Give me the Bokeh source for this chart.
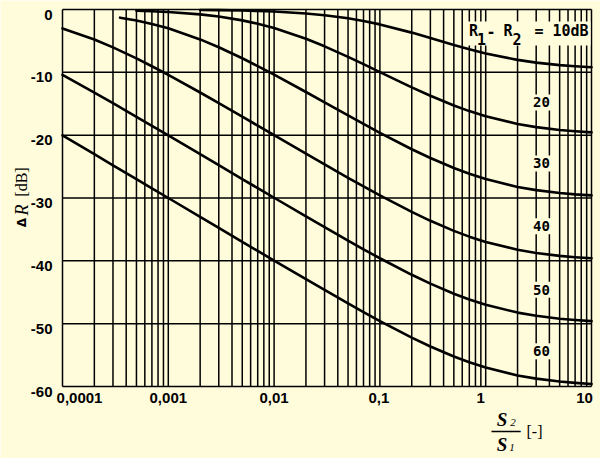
import math
from bokeh.plotting import figure
from bokeh.models import Range1d
from bokeh.core.properties import value
from bokeh.embed import file_html
from bokeh.resources import INLINE

BG = "#fffcdc"

# ---------------- data ----------------
# level difference R1 - R2 of the curves [dB]
R1_MINUS_R2 = [10, 20, 30, 40, 50, 60]

# area ratio S2/S1 sample points
S_RATIO = [0.0001, 0.0002, 0.0003, 0.0005, 0.0007,
           0.001, 0.002, 0.003, 0.005, 0.007,
           0.01, 0.02, 0.03, 0.05, 0.07,
           0.1, 0.2, 0.3, 0.5, 0.7,
           1, 2, 3, 5, 7, 10]
S_RATIO_10 = [0.002, 0.003, 0.005, 0.007,
              0.01, 0.02, 0.03, 0.05, 0.07,
              0.1, 0.2, 0.3, 0.5, 0.7,
              1, 2, 3, 5, 7, 10]
S_RATIO_20 = [0.0005, 0.0007,
              0.001, 0.002, 0.003, 0.005, 0.007,
              0.01, 0.02, 0.03, 0.05, 0.07,
              0.1, 0.2, 0.3, 0.5, 0.7,
              1, 2, 3, 5, 7, 10]
S_RATIO_30 = [0.00035, 0.0005, 0.0007,
              0.001, 0.002, 0.003, 0.005, 0.007,
              0.01, 0.02, 0.03, 0.05, 0.07,
              0.1, 0.2, 0.3, 0.5, 0.7,
              1, 2, 3, 5, 7, 10]

# resulting reduction Delta R [dB]
DR_10 = [-0.07, -0.10, -0.17, -0.24, -0.33, -0.63, -0.91, -1.40, -1.83,
         -2.37, -3.68, -4.54, -5.64, -6.33, -6.99, -8.02, -8.45, -8.85, -9.03, -9.18]
DR_20 = [-0.21, -0.29, -0.41, -0.78, -1.12, -1.73, -2.26, -2.95, -4.66, -5.86,
         -7.53, -8.70, -9.96, -12.39, -13.73, -15.27, -16.17, -16.99, -18.22,
         -18.72, -19.17, -19.38, -19.55]
DR_30 = [-1.30, -1.76, -2.30, -3.00, -4.76, -6.00, -7.76, -9.00, -10.37, -13.13,
         -14.78, -16.86, -18.21, -19.63, -22.24, -23.64, -25.23, -26.15, -26.99,
         -28.24, -28.75, -29.20, -29.42, -29.58]
DR_40 = [-3.01, -4.77, -6.02, -7.78, -9.03, -10.41, -13.21, -14.90, -17.05, -18.48,
         -20.00, -22.95, -24.66, -26.79, -28.16, -29.59, -32.22, -33.63, -35.23,
         -36.15, -36.99, -38.24, -38.75, -39.21, -39.42, -39.59]
DR_50 = [-10.41, -13.22, -14.91, -17.07, -18.51, -20.04, -23.02, -24.77, -26.98,
         -28.43, -29.96, -32.93, -34.64, -36.78, -38.16, -39.59, -42.22, -43.63,
         -45.23, -46.15, -46.99, -48.24, -48.75, -49.21, -49.42, -49.59]
DR_60 = [-20.04, -23.03, -24.79, -27.00, -28.46, -30.00, -33.00, -34.76, -36.97,
         -38.42, -39.96, -42.92, -44.64, -46.78, -48.16, -49.59, -52.22, -53.63,
         -55.23, -56.15, -56.99, -58.24, -58.75, -59.21, -59.42, -59.59]

X_TICKS = [0.0001, 0.001, 0.01, 0.1, 1, 10]
X_TICK_LABELS = ["0,0001", "0,001", "0,01", "0,1", "1", "10"]
Y_TICKS = [0, -10, -20, -30, -40, -50, -60]
Y_TICK_LABELS = ["0", "-10", "-20", "-30", "-40", "-50", "-60"]
CURVE_LABELS = [str(v) for v in R1_MINUS_R2[1:]]
CURVE_LABEL_Y = [-14.8, -24.5, -34.5, -44.6, -54.4]
CURVE_LABEL_X = 3.37

# ---------------- layout geometry (page pixels) ----------------
W, H, M = 600, 458, 0
L_IMG, R_IMG, T_IMG, B_IMG = 62, 591, 9, 386      # chart area edges on the page
PX_DEC = (R_IMG - L_IMG) / 5.0                      # pixels per decade
PX_DB = (B_IMG - T_IMG) / 60.0                      # pixels per dB
x_lo = 10 ** (-4 - (L_IMG - M) / PX_DEC)
x_hi = 10 ** (1 + (M + W - R_IMG) / PX_DEC)
y_hi = (T_IMG - M) / PX_DB
y_lo = -60 - (M + H - B_IMG) / PX_DB


def XS(px):
    return 10 ** (-4 + (px - L_IMG) / PX_DEC)


def YS(py):
    return -(py - T_IMG) / PX_DB


p = figure(width=W, height=H, title=None,
           x_axis_type="log", x_range=Range1d(x_lo, x_hi), y_range=Range1d(y_lo, y_hi),
           x_axis_location=None, y_axis_location=None,
           toolbar_location=None, output_backend="svg",
           background_fill_color=BG, border_fill_color=BG,
           min_border=0)
p.outline_line_color = None
p.grid.visible = False

# grid: every unit of each decade, every 10 dB
minor = [k * 10.0 ** e for e in range(-4, 1) for k in range(1, 10)] + [10.0]
p.segment(x0=minor, y0=[-60] * len(minor), x1=minor, y1=[0] * len(minor),
          line_color="black", line_width=1.5)
p.segment(x0=[1e-4] * len(Y_TICKS), y0=Y_TICKS, x1=[10] * len(Y_TICKS), y1=Y_TICKS,
          line_color="black", line_width=1.5)

# cleared boxes behind the curve labels
box_l, box_r, box_t, box_b = [], [], [], []
for yv in CURVE_LABEL_Y:
    cy = T_IMG - yv * PX_DB
    box_l.append(XS(529)); box_r.append(XS(554))
    box_t.append(YS(cy - 8)); box_b.append(YS(cy + 8))
box_l.append(XS(465)); box_r.append(XS(590)); box_t.append(YS(21)); box_b.append(YS(45))
p.quad(left=box_l, right=box_r, top=box_t, bottom=box_b, fill_color=BG, line_color=None)

# curves
curves = [(S_RATIO_10, DR_10), (S_RATIO_20, DR_20), (S_RATIO_30, DR_30),
          (S_RATIO, DR_40), (S_RATIO, DR_50), (S_RATIO, DR_60)]
for xs, ys in curves:
    p.line(xs, ys, line_color="black", line_width=2.6, line_join="round", line_cap="round")

SANS = "Liberation Sans"
SERIF = "Liberation Serif"
MONO = "DejaVu Sans Mono"

# tick labels
p.text(x=[1e-4] * len(Y_TICKS), y=Y_TICKS, text=Y_TICK_LABELS,
       x_offset=-10, y_offset=5, text_align="right", text_baseline="middle",
       text_font=value(SANS), text_font_style="bold", text_font_size="15px", text_color="black")
x_shift = [17, 0, 0, -1, -5, -7]
p.text(x=X_TICKS, y=[-60] * len(X_TICKS), text=X_TICK_LABELS,
       x_offset=x_shift, y_offset=6, text_align="center", text_baseline="top",
       text_font=value(SANS), text_font_style="bold", text_font_size="15px", text_color="black")

# curve labels
p.text(x=[CURVE_LABEL_X] * len(CURVE_LABELS), y=CURVE_LABEL_Y, text=CURVE_LABELS,
       text_align="center", text_baseline="middle",
       text_font=value(MONO), text_font_style="bold", text_font_size="14px", text_color="black")


def txt(t, px, py, size, font, style="bold", angle=0.0, align="center"):
    p.text(x=[XS(px)], y=[YS(py)], text=[t], angle=angle,
           text_align=align, text_baseline="middle",
           text_font=value(font), text_font_style=style,
           text_font_size=f"{size}px", text_color="black")


# "R1 - R2 = 10dB"
for t, px, py in [("R", 473, 30), ("1", 481, 38), ("-", 490.5, 30), ("R", 507.5, 30),
                  ("2", 516.5, 38), ("=", 538.5, 30), ("10dB", 570, 30)]:
    txt(t, px, py, 15, MONO)

# y-axis title  "Δ R [dB]"
txt("Δ", 21.5, 222, 12, "DejaVu Sans", angle=math.pi / 2)
txt("R", 21, 209.5, 18, SERIF, style="italic", angle=math.pi / 2)
txt("[dB]", 21, 181.5, 16, SERIF, style="normal", angle=math.pi / 2)

# x-axis title  S2/S1 [-]
txt("S", 501.5, 418.5, 19, SERIF, style="bold italic")
txt("2", 512.5, 421.5, 11, SERIF, style="italic")
txt("───", 505.5, 430.5, 16, MONO)
txt("S", 501.5, 443.5, 19, SERIF, style="bold italic")
txt("1", 511.5, 446.5, 11, SERIF, style="italic")
txt("[-]", 534, 430.5, 16, SERIF, style="normal")

open("out.html", "w").write(file_html(p, INLINE))
